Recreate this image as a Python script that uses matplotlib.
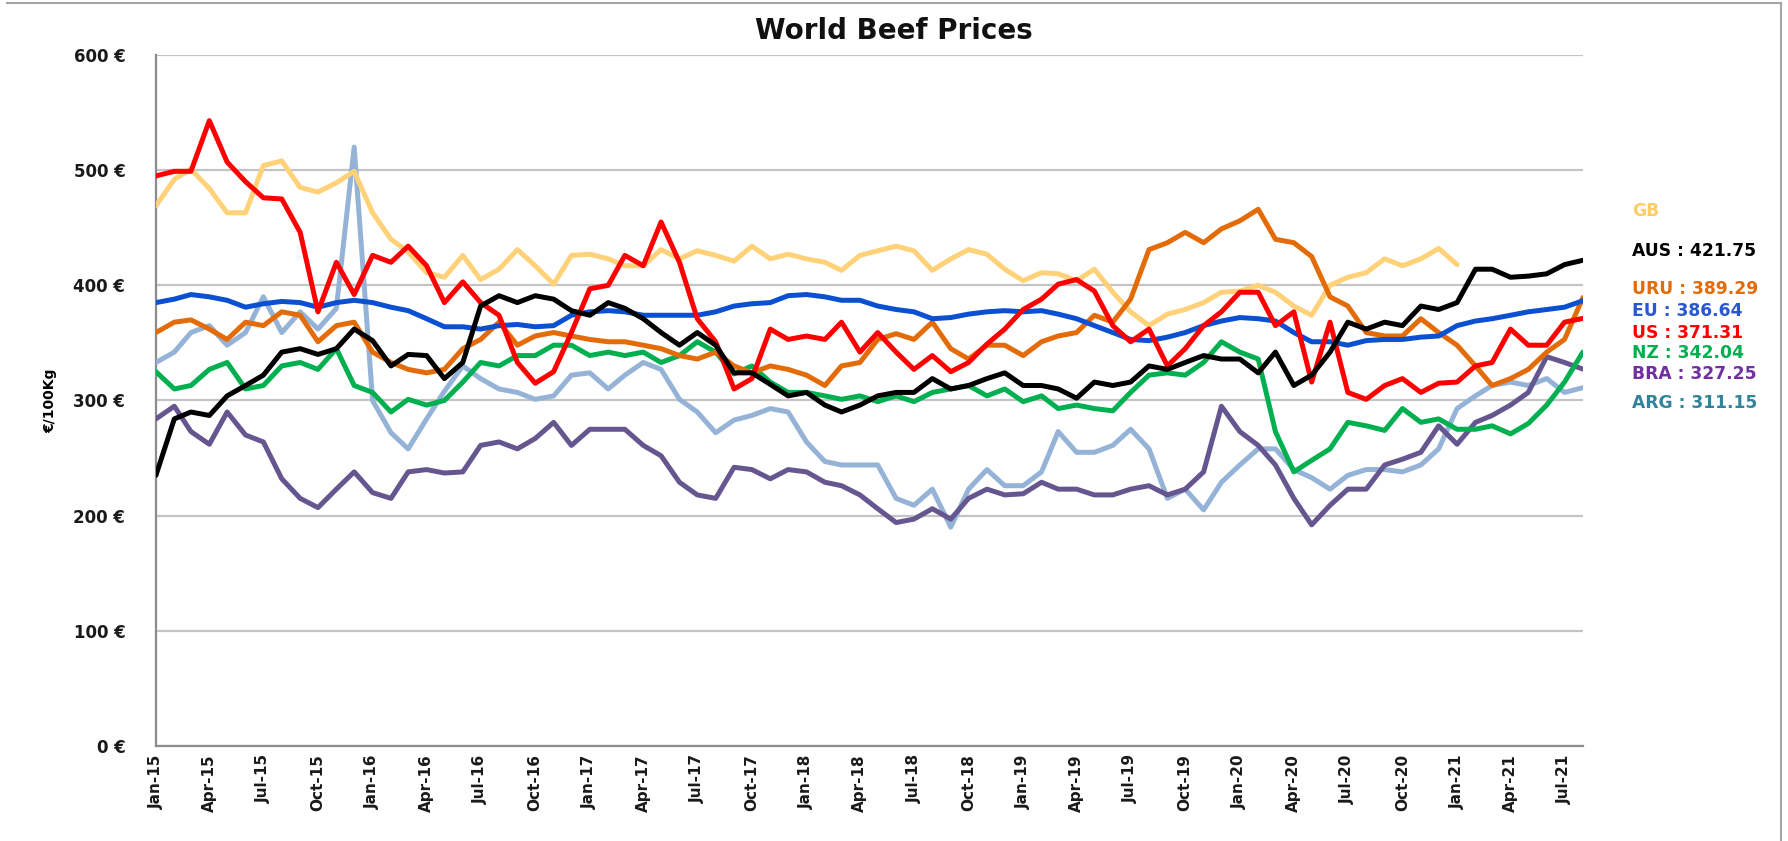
import numpy as np
import pandas as pd
import matplotlib
matplotlib.use("Agg")
import matplotlib.pyplot as plt
import matplotlib.dates as mdates
from matplotlib.lines import Line2D

# monthly prices, EUR per 100 kg, Jan-15 .. Aug-21
dates = pd.date_range("2015-01-01", periods=80, freq="MS")

aus = [235, 284, 290, 287, 304, 313, 322, 342, 345, 340,
       345, 362, 352, 330, 340, 339, 319, 333, 382, 391,
       385, 391, 388, 378, 374, 385, 380, 371, 359, 348,
       359, 348, 324, 324, 314, 304, 307, 296, 290, 296,
       304, 307, 307, 319, 310, 313, 319, 324, 313, 313,
       310, 302, 316, 313, 316, 330, 327, 333, 339, 336,
       336, 324, 342, 313, 322, 342, 368, 362, 368, 365,
       382, 379, 385, 414, 414, 407, 408, 410, 418, 421.75]

uru = [359, 368, 370, 362, 353, 368, 365, 377, 374, 351,
       365, 368, 342, 333, 327, 324, 327, 345, 353, 368,
       348, 356, 359, 356, 353, 351, 351, 348, 345, 339,
       336, 342, 330, 324, 330, 327, 322, 313, 330, 333,
       353, 358, 353, 368, 345, 336, 348, 348, 339, 351,
       356, 359, 374, 368, 388, 431, 437, 446, 437, 449,
       456, 466, 440, 437, 425, 390, 382, 359, 356, 356,
       371, 359, 348, 330, 313, 319, 327, 342, 353, 389.29]

eu = [385, 388, 392, 390, 387, 381, 384, 386, 385, 381,
      385, 387, 385, 381, 378, 371, 364, 364, 362, 365,
      366, 364, 365, 374, 377, 378, 377, 374, 374, 374,
      374, 377, 382, 384, 385, 391, 392, 390, 387, 387,
      382, 379, 377, 371, 372, 375, 377, 378, 377, 378,
      375, 371, 365, 359, 353, 352, 355, 359, 365, 369,
      372, 371, 369, 359, 351, 351, 348, 352, 353, 353,
      355, 356, 365, 369, 371, 374, 377, 379, 381, 386.64]

us = [495, 499, 499, 543, 507, 490, 476, 475, 446, 377,
      420, 392, 426, 420, 434, 417, 385, 403, 385, 374,
      333, 315, 325, 359, 397, 400, 426, 417, 455, 420,
      371, 351, 310, 319, 362, 353, 356, 353, 368, 342,
      359, 342, 327, 339, 325, 333, 349, 362, 379, 388,
      401, 405, 395, 365, 351, 362, 330, 345, 365, 377,
      394, 394, 365, 377, 316, 368, 307, 301, 313, 319,
      307, 315, 316, 330, 333, 362, 348, 348, 368, 371.31]

nz = [325, 310, 313, 327, 333, 310, 313, 330, 333, 327,
      345, 313, 307, 290, 301, 296, 300, 316, 333, 330,
      339, 339, 348, 348, 339, 342, 339, 342, 333, 339,
      351, 342, 323, 330, 316, 307, 307, 304, 301, 304,
      299, 304, 299, 307, 310, 313, 304, 310, 299, 304,
      293, 296, 293, 291, 307, 322, 324, 322, 333, 351,
      342, 336, 273, 238, 248, 258, 281, 278, 274, 293,
      281, 284, 275, 275, 278, 271, 280, 296, 316, 342.04]

bra = [284, 295, 273, 262, 290, 270, 264, 232, 215, 207,
       223, 238, 220, 215, 238, 240, 237, 238, 261, 264,
       258, 267, 281, 261, 275, 275, 275, 261, 252, 229,
       218, 215, 242, 240, 232, 240, 238, 229, 226, 218,
       206, 194, 197, 206, 197, 215, 223, 218, 219, 229,
       223, 223, 218, 218, 223, 226, 218, 223, 238, 295,
       273, 261, 244, 215, 192, 209, 223, 223, 244, 249,
       255, 278, 262, 281, 287, 296, 307, 338, 333, 327.25]

arg = [333, 342, 359, 365, 348, 359, 390, 359, 377, 362,
       380, 520, 300, 272, 258, 284, 308, 330, 319, 310,
       307, 301, 304, 322, 324, 310, 322, 333, 327, 301,
       290, 272, 283, 287, 293, 290, 264, 247, 244, 244,
       244, 215, 209, 223, 190, 223, 240, 226, 226, 238,
       273, 255, 255, 261, 275, 258, 215, 223, 205, 229,
       244, 258, 258, 240, 233, 223, 235, 240, 240, 238,
       244, 258, 293, 304, 313, 316, 313, 319, 307, 311.15]

# GB series stops at Jan-21
gb = [469, 492, 501, 484, 463, 463, 504, 508, 485, 481,
      489, 499, 463, 440, 429, 411, 407, 426, 405, 414,
      431, 417, 401, 426, 427, 423, 417, 417, 431, 423,
      430, 426, 421, 434, 423, 427, 423, 420, 413, 426,
      430, 434, 430, 413, 423, 431, 427, 414, 404, 411,
      410, 404, 414, 394, 377, 365, 375, 379, 385, 394,
      395, 400, 394, 382, 374, 400, 407, 411, 423, 417,
      423, 432, 418]
gb = gb + [np.nan] * (len(dates) - len(gb))

# drawing order: first is at the bottom
series = [
    ("ARG", arg, "#95B3D7", "#31849B"),
    ("BRA", bra, "#66568F", "#7030A0"),
    ("GB", gb, "#FFD27A", "#FFCC66"),
    ("NZ", nz, "#00B050", "#00B050"),
    ("URU", uru, "#E36C09", "#E36C09"),
    ("EU", eu, "#0A50D0", "#2A57D2"),
    ("US", us, "#FF0000", "#FF0000"),
    ("AUS", aus, "#000000", "#000000"),
]

# right-hand label stack, top to bottom, y in figure fraction
label_order = ["GB", "AUS", "URU", "EU", "US", "NZ", "BRA", "ARG"]
label_y = [0.749, 0.702, 0.656, 0.630, 0.604, 0.580, 0.555, 0.521]

fig = plt.figure(figsize=(17.88, 8.41), dpi=100)
ax = fig.add_axes((0.0872, 0.1130, 0.7981, 0.8216))

for name, vals, color, _ in series:
    ax.plot(dates, vals, color=color, lw=3.6, solid_joinstyle="round",
            solid_capstyle="round", zorder=3)

ax.set_ylim(0, 600)
ax.set_xlim(dates[0], dates[-1])
ax.set_yticks(np.arange(0, 601, 100))
ax.set_yticklabels([f"{v} €" for v in range(0, 601, 100)])
ax.grid(axis="y", color="#C4C4C4", lw=1.6)
ax.set_axisbelow(True)

ax.xaxis.set_major_locator(mdates.MonthLocator(bymonth=[1, 4, 7, 10]))
ax.xaxis.set_major_formatter(mdates.DateFormatter("%b-%y"))
ax.tick_params(axis="x", rotation=90, length=0, pad=6, labelsize=11)
ax.tick_params(axis="y", length=0, pad=22, labelsize=12)
for lab in ax.get_xticklabels() + ax.get_yticklabels():
    lab.set_fontweight("bold")
    lab.set_color("#1A1A1A")

for side in ("top", "right"):
    ax.spines[side].set_visible(False)
for side in ("left", "bottom"):
    ax.spines[side].set_color("#8C8C8C")
    ax.spines[side].set_linewidth(1.6)

ax.set_ylabel("€/100Kg", fontsize=10, fontweight="bold", labelpad=12)

fig.text(0.5, 0.963, "World Beef Prices", ha="center", va="center",
         fontsize=20, fontweight="bold", color="#111111")

lookup = {name: (vals, tc) for name, vals, _, tc in series}
for name, y in zip(label_order, label_y):
    vals, tc = lookup[name]
    text = name if name == "GB" else f"{name} : {vals[-1]:.2f}"
    fig.text(0.913, y, text, ha="left", va="center", fontsize=12.3,
             fontweight="bold", color=tc)

# chart frame
fig.add_artist(Line2D([0.004, 0.996], [0.9964, 0.9964], color="#A6A6A6", lw=1.5))
fig.add_artist(Line2D([0.996, 0.996], [0.0, 0.9964], color="#A6A6A6", lw=1.5))

fig.savefig("out.png", dpi=100)
